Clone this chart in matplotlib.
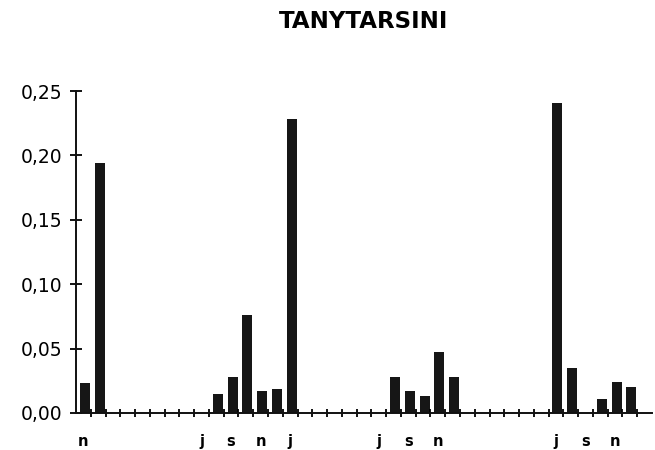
import numpy as np
import matplotlib.pyplot as plt

# monthly slots, Nov of the first year through the last month shown
n_slots = 39
slots = [0, 1, 9, 10, 11, 12, 13, 14, 21, 22, 23, 24, 25, 32, 33, 35, 36, 37]
values = [0.023, 0.194, 0.015, 0.028, 0.076, 0.017, 0.019, 0.228,
          0.028, 0.017, 0.013, 0.047, 0.028, 0.241, 0.035, 0.011, 0.024, 0.020]
month_pos = [0, 8, 10, 12, 14, 20, 22, 24, 32, 34, 36]
month_lab = ['n', 'j', 's', 'n', 'j', 'j', 's', 'n', 'j', 's', 'n']
yticks = [0.0, 0.05, 0.10, 0.15, 0.20, 0.25]

fig = plt.figure(figsize=(6.55, 4.5), dpi=100)
ax = fig.add_axes([76 / 655, 37 / 450, 576 / 655, 322 / 450])

ax.bar(np.array(slots) + 0.1, values, width=0.68, color='#161616', edgecolor='none')

ax.set_xlim(-0.5, n_slots - 0.5)
ax.set_ylim(0, 0.25)

for s in ['top', 'right']:
    ax.spines[s].set_visible(False)
for s in ['left', 'bottom']:
    ax.spines[s].set_linewidth(1.4)
    ax.spines[s].set_color('#111111')

ax.set_yticks(yticks)
ax.set_yticklabels([f'{v:.2f}'.replace('.', ',') for v in yticks],
                   fontsize=13.5, family='DejaVu Sans')
ax.tick_params(axis='y', direction='inout', length=8, width=1.3, pad=6)

# boundary ticks between months, labels centred on the months
ax.set_xticks(np.arange(0.5, n_slots - 0.5, 1))
ax.set_xticklabels([])
ax.tick_params(axis='x', which='major', direction='inout', length=6, width=1.3)
ax.set_xticks(month_pos, minor=True)
ax.set_xticklabels(month_lab, minor=True, fontsize=10.5, fontweight='bold',
                   family='DejaVu Sans')
ax.tick_params(axis='x', which='minor', length=0, pad=15)

fig.text(364 / 655, 1 - 22 / 450, 'TANYTARSINI', ha='center', va='center',
         fontsize=16.5, fontweight='bold', family=['Liberation Sans Narrow', 'DejaVu Sans'])

fig.savefig('out.png', dpi=100)
